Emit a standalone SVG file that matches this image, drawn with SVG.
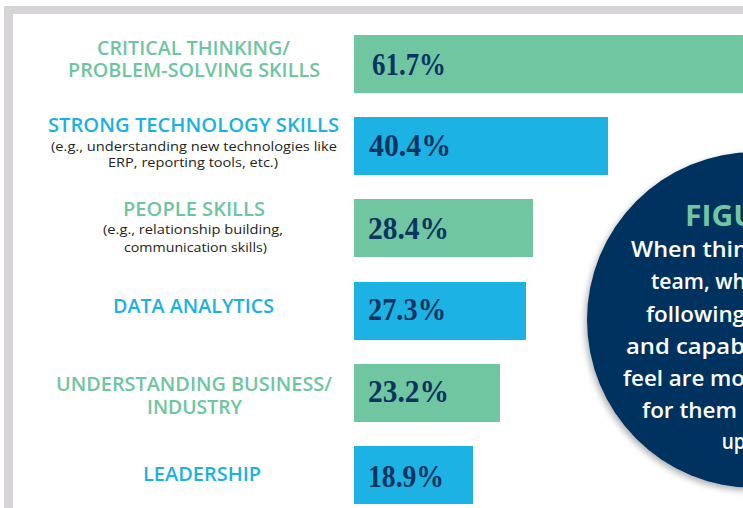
<svg xmlns="http://www.w3.org/2000/svg" width="743" height="508" viewBox="0 0 743 508">
<defs>
<style>
.frame{fill:#d6d4d7}
.g{fill:#71c6a2}
.b{fill:#1cb2e3}
.lbl{font-family:"Open Sans","Liberation Sans",sans-serif;font-weight:600;font-size:19px;text-anchor:middle}
.lg{fill:#6fc5a0}
.lb{fill:#1bb1e2}
.sub{font-family:"Open Sans","Liberation Sans",sans-serif;font-weight:400;font-size:13.5px;fill:#231f20;text-anchor:middle}
.pct{font-family:"Liberation Serif","Times New Roman",serif;font-weight:700;font-size:31px;fill:#0b3461}
.circ{fill:#033361}
.ct{font-family:"Open Sans","Liberation Sans",sans-serif;font-weight:600;font-size:22px;fill:#ffffff}
.fig{font-family:"Open Sans","Liberation Sans",sans-serif;font-weight:700;font-size:29px;fill:#71c6a2}
</style>
<filter id="sh" x="-20%" y="-20%" width="140%" height="140%">
<feDropShadow dx="-2" dy="3" stdDeviation="3" flood-color="#000" flood-opacity="0.3"/>
</filter>
</defs>
<rect width="743" height="508" fill="#ffffff"/>
<g id="frame">
<rect class="frame" x="4" y="6" width="739" height="8"/>
<rect class="frame" x="4" y="6" width="9" height="502"/>
</g>
<g id="bar-critical-thinking">
<rect class="g" x="354" y="35" width="389" height="58"/>
<text class="pct" x="372" y="75" textLength="74" lengthAdjust="spacingAndGlyphs">61.7%</text>
<text class="lbl lg" x="193.5" y="54.5" textLength="193" lengthAdjust="spacingAndGlyphs">CRITICAL THINKING/</text>
<text class="lbl lg" x="194" y="76.7" textLength="252" lengthAdjust="spacingAndGlyphs">PROBLEM-SOLVING SKILLS</text>
</g>
<g id="bar-technology">
<rect class="b" x="354" y="117" width="254" height="58"/>
<text class="pct" x="369" y="156" textLength="82" lengthAdjust="spacingAndGlyphs">40.4%</text>
<text class="lbl lb" x="193.5" y="132" textLength="291" lengthAdjust="spacingAndGlyphs">STRONG TECHNOLOGY SKILLS</text>
<text class="sub" x="194" y="150.5" textLength="286" lengthAdjust="spacingAndGlyphs">(e.g., understanding new technologies like</text>
<text class="sub" x="193" y="166.5" textLength="170" lengthAdjust="spacingAndGlyphs">ERP, reporting tools, etc.)</text>
</g>
<g id="bar-people">
<rect class="g" x="354" y="199" width="179" height="58"/>
<text class="pct" x="368" y="239" textLength="81" lengthAdjust="spacingAndGlyphs">28.4%</text>
<text class="lbl lg" x="194" y="216" textLength="142" lengthAdjust="spacingAndGlyphs">PEOPLE SKILLS</text>
<text class="sub" x="193" y="234" textLength="180" lengthAdjust="spacingAndGlyphs">(e.g., relationship building,</text>
<text class="sub" x="195.5" y="251.7" textLength="143" lengthAdjust="spacingAndGlyphs">communication skills)</text>
</g>
<g id="bar-data">
<rect class="b" x="354" y="282" width="172" height="58"/>
<text class="pct" x="368" y="319.5" textLength="78" lengthAdjust="spacingAndGlyphs">27.3%</text>
<text class="lbl lb" x="193.5" y="313.3" textLength="161" lengthAdjust="spacingAndGlyphs">DATA ANALYTICS</text>
</g>
<g id="bar-business">
<rect class="g" x="354" y="364" width="146" height="58"/>
<text class="pct" x="368" y="401.7" textLength="81" lengthAdjust="spacingAndGlyphs">23.2%</text>
<text class="lbl lg" x="194" y="390.7" textLength="276" lengthAdjust="spacingAndGlyphs">UNDERSTANDING BUSINESS/</text>
<text class="lbl lg" x="194.5" y="414" textLength="95" lengthAdjust="spacingAndGlyphs">INDUSTRY</text>
</g>
<g id="bar-leadership">
<rect class="b" x="354" y="446" width="119" height="58"/>
<text class="pct" x="368" y="486.7" textLength="76" lengthAdjust="spacingAndGlyphs">18.9%</text>
<text class="lbl lb" x="202" y="480.7" textLength="118" lengthAdjust="spacingAndGlyphs">LEADERSHIP</text>
</g>
<g id="figure-circle">
<circle class="circ" cx="755" cy="320" r="168" filter="url(#sh)"/>
<text class="fig" x="685" y="226" textLength="71" lengthAdjust="spacingAndGlyphs">FIGU</text>
<text class="ct" x="631" y="257.3" textLength="117" lengthAdjust="spacingAndGlyphs">When thin</text>
<text class="ct" x="651" y="289.3" textLength="95" lengthAdjust="spacingAndGlyphs">team, wh</text>
<text class="ct" x="646" y="321.7" textLength="99" lengthAdjust="spacingAndGlyphs">following</text>
<text class="ct" x="626" y="353.7" textLength="119" lengthAdjust="spacingAndGlyphs">and capab</text>
<text class="ct" x="623" y="385.5" textLength="122" lengthAdjust="spacingAndGlyphs">feel are mo</text>
<text class="ct" x="642" y="417.5" textLength="95" lengthAdjust="spacingAndGlyphs">for them</text>
<text class="ct" x="721.7" y="449.3" textLength="24" lengthAdjust="spacingAndGlyphs">up</text>
</g>
</svg>
